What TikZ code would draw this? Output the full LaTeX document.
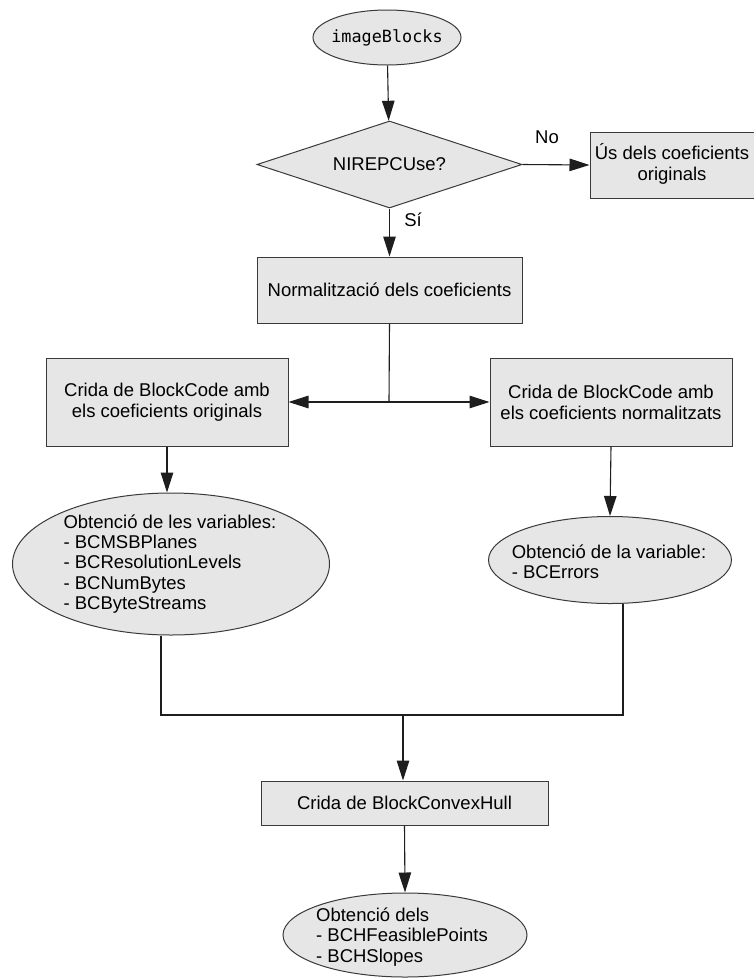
\documentclass[tikz,border=0pt]{standalone}
\usepackage{fontspec}
\setmainfont{Liberation Sans}
\newfontfamily\monofont{DejaVu Sans Mono}
\usetikzlibrary{shapes.geometric,arrows.meta}
\definecolor{boxfill}{HTML}{E6E6E6}
\definecolor{edgecol}{HTML}{3A3A3A}
\definecolor{linecol}{HTML}{1E1E1E}
\begin{document}
\begin{tikzpicture}[x=1pt,y=-1pt,
  box/.style={draw=edgecol, fill=boxfill, line width=1pt, inner sep=0pt, align=center,
    font=\fontsize{18.5}{21}\selectfont},
  oval/.style={ellipse, draw=edgecol, fill=boxfill, line width=1pt, inner sep=0pt},
  dia/.style={diamond, draw=edgecol, fill=boxfill, line width=1pt, inner sep=0pt},
  txt/.style={font=\fontsize{18.5}{20.3}\selectfont, align=left, inner sep=0pt},
  arr/.style={draw=linecol, line width=1.1pt, -{Triangle[length=20pt,width=12.5pt]}},
  ln/.style={draw=linecol, line width=1.1pt}]
\useasboundingbox (0,0) rectangle (753,978);
\fill[white] (0,0) rectangle (753,978);

% nodes
\node[oval, minimum width=148pt, minimum height=55pt] (start) at (387,37.5) {};
\node[font=\monofont\fontsize{16.8}{20}\selectfont, inner sep=0pt] (startlbl) at (start.center) {imageBlocks};

\node[dia, minimum width=265pt, minimum height=87pt] (dec) at (389.5,164.5) {};
\node[txt] (declbl) at (dec.center) {NIREPCUse?};

\node[box, minimum width=178pt, minimum height=66pt] (us) at (679,165) {};
\node[txt, align=center, font=\fontsize{18.5}{21}\selectfont] (uslbl) at (672,164) {Ús dels coeficients\\originals};

\node[box, minimum width=265pt, minimum height=66pt] (norm) at (389.5,290) {Normalització dels coeficients};

\node[box, minimum width=242pt, minimum height=88pt] (lbox) at (167,402) {Crida de BlockCode amb\\els coeficients originals};
\node[box, minimum width=242pt, minimum height=88pt] (rbox) at (611,402) {Crida de BlockCode amb\\els coeficients normalitzats};

\node[oval, minimum width=317pt, minimum height=142pt] (lell) at (171,564) {};
\node[txt] (lelltxt) at (170,564) {Obtenció de les variables:\\- BCMSBPlanes\\- BCResolutionLevels\\- BCNumBytes\\- BCByteStreams};

\node[oval, minimum width=243pt, minimum height=87pt] (rell) at (610,560) {};
\node[txt] (relltxt) at (609,562) {Obtenció de la variable:\\- BCErrors};

\node[box, minimum width=287pt, minimum height=44pt] (hull) at (404.5,803) {Crida de BlockConvexHull};

\node[oval, minimum width=244pt, minimum height=84pt] (fin) at (405,935) {};
\node[txt] (fintxt) at (402,937) {Obtenció dels\\- BCHFeasiblePoints\\- BCHSlopes};

% labels
\node[txt] (nolbl) at (547,137) {No};
\node[txt] (silbl) at (413,220) {Sí};

% coordinates
\coordinate (j) at (389,402);
\coordinate (ml) at (161,715);
\coordinate (mr) at (623,715);
\coordinate (mc) at (403,715);

% connectors
\draw[arr] (start) -- (dec);
\draw[arr] (dec.east) -- (us.west);
\draw[arr] (dec.south) -- (norm.north);
\draw[ln] (norm.south) -- (j);
\draw[arr] (j) -- (lbox.east);
\draw[arr] (j) -- (rbox.west);
\draw[arr] (lbox.south) -- (lbox.south |- lell.north);
\draw[arr] (rbox.south) -- (rell.north);
\draw[ln] ([xshift=-10pt]lell.south) -- (ml) -- (mr) -- ([xshift=13pt]rell.south);
\draw[arr] (mc) -- (mc |- hull.north);
\draw[arr] (hull.south) -- (fin.north);
\end{tikzpicture}
\end{document}
